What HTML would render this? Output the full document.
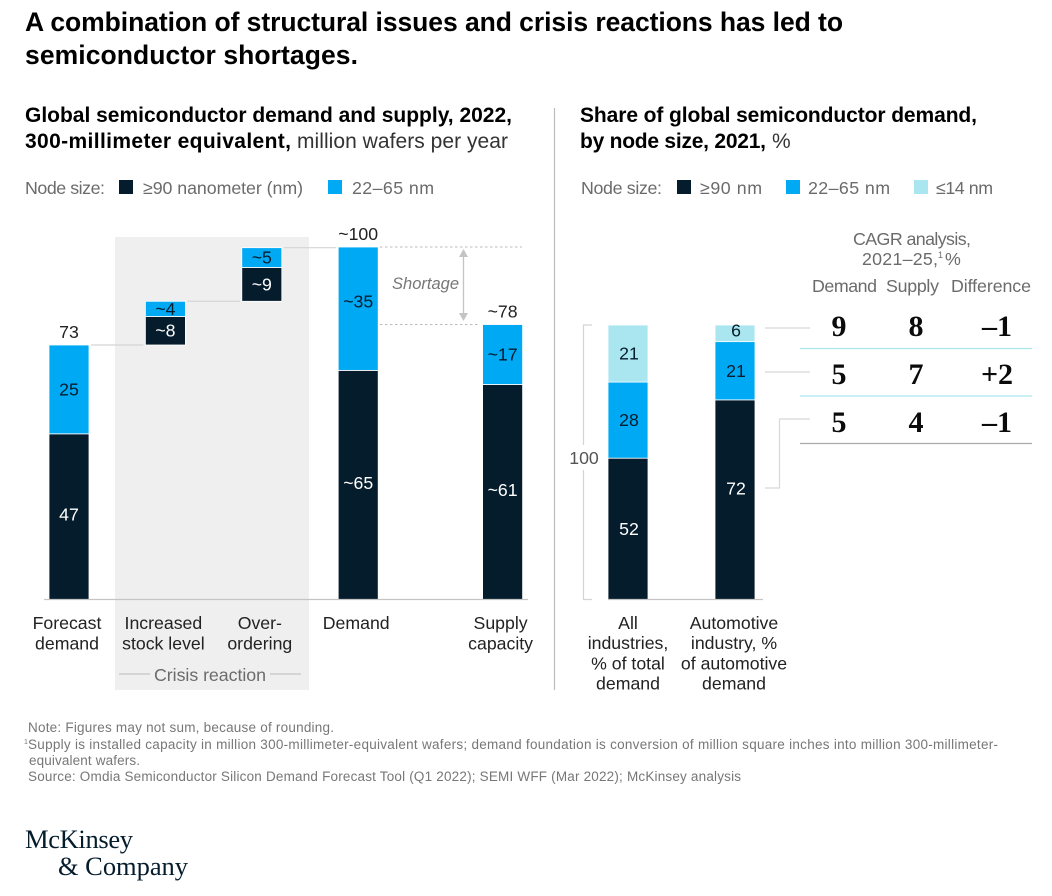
<!DOCTYPE html>
<html lang="en">
<head>
<meta charset="utf-8">
<title>Semiconductor shortages</title>
<style>
html,body{margin:0;padding:0;background:#fff;width:1052px;height:896px;overflow:hidden}
svg{display:block;font-family:"Liberation Sans",sans-serif}
.h{font-weight:700;fill:#000}
.s{font-size:21px}
.g{fill:#6b6b6b;font-size:17.8px}
.f{fill:#777;font-size:13.5px}
.n{font-family:"Liberation Serif",serif;font-weight:700;font-size:30px;fill:#0b0b0b;text-anchor:middle}
.l{font-family:"Liberation Serif",serif;font-size:26.5px;fill:#051c2c}
</style>
</head>
<body>
<svg xmlns="http://www.w3.org/2000/svg" width="1052" height="896" viewBox="0 0 1052 896">
  <text class="h" font-size="26.5" x="25" y="31" textLength="818" lengthAdjust="spacing">A combination of structural issues and crisis reactions has led to</text>
  <text class="h" font-size="26.5" x="25" y="64" textLength="333" lengthAdjust="spacing">semiconductor shortages.</text>

  <text class="h s" x="25" y="122" textLength="487" lengthAdjust="spacing">Global semiconductor demand and supply, 2022,</text>
  <text class="h s" x="25" y="148" textLength="266" lengthAdjust="spacing">300-millimeter equivalent,</text>
  <text class="s" x="297" y="148" fill="#333" textLength="211" lengthAdjust="spacing">million wafers per year</text>

  <g>
    <text class="g" x="25" y="194" textLength="80" lengthAdjust="spacing">Node size:</text>
    <rect x="119" y="180" width="14" height="14" fill="#051c2c"/>
    <text class="g" x="143" y="194" textLength="160" lengthAdjust="spacing">≥90 nanometer (nm)</text>
    <rect x="328" y="180" width="14" height="14" fill="#00a9f4"/>
    <text class="g" x="352" y="194" textLength="82" lengthAdjust="spacing">22–65 nm</text>
  </g>

  <rect x="115" y="237" width="194" height="453" fill="#efefef"/>
  <line x1="119" y1="674" x2="150" y2="674" stroke="#bbb"/>
  <line x1="270" y1="674" x2="301" y2="674" stroke="#bbb"/>
  <text class="g" x="154" y="681" textLength="112" lengthAdjust="spacing">Crisis reaction</text>

  <line x1="554.5" y1="108" x2="554.5" y2="690" stroke="#bdbdbd" stroke-width="1.2"/>

  <g id="left-chart"></g>

  <line x1="380" y1="247" x2="522" y2="247" stroke="#bbb" stroke-dasharray="2.5 2.5"/>
  <line x1="380" y1="324.5" x2="479" y2="324.5" stroke="#bbb" stroke-dasharray="2.5 2.5"/>
  <g>
    <line x1="463.5" y1="255" x2="463.5" y2="315" stroke="#c4c4c4" stroke-width="1.3"/>
    <polygon points="463.5,249 459,257 468,257" fill="#c4c4c4"/>
    <polygon points="463.5,321 459,313 468,313" fill="#c4c4c4"/>
  </g>
  <text x="392" y="289" font-size="16.5" font-style="italic" fill="#777" textLength="67" lengthAdjust="spacing">Shortage</text>

  <text class="h s" x="580" y="122" textLength="397" lengthAdjust="spacing">Share of global semiconductor demand,</text>
  <text class="h s" x="580" y="148" textLength="186" lengthAdjust="spacing">by node size, 2021,</text>
  <text class="s" x="772" y="148" fill="#333">%</text>

  <g>
    <text class="g" x="581" y="194" textLength="81" lengthAdjust="spacing">Node size:</text>
    <rect x="677" y="180" width="14" height="14" fill="#051c2c"/>
    <text class="g" x="700" y="194" textLength="62" lengthAdjust="spacing">≥90 nm</text>
    <rect x="786" y="180" width="14" height="14" fill="#00a9f4"/>
    <text class="g" x="808" y="194" textLength="82" lengthAdjust="spacing">22–65 nm</text>
    <rect x="914" y="180" width="14" height="14" fill="#aae6f0"/>
    <text class="g" x="936" y="194" textLength="57" lengthAdjust="spacing">≤14 nm</text>
  </g>

  <g id="right-chart"></g>

  <g fill="none" stroke="#d4d4d4" stroke-width="1.2">
    <path d="M592 325H583.5V445"/>
    <path d="M592 599.5H583.5V470"/>
  </g>
  <text x="584" y="464" text-anchor="middle" font-size="17.7" fill="#555">100</text>

  <g fill="none" stroke="#d8d8d8" stroke-width="1.2">
    <path d="M765 328H810"/>
    <path d="M765 372H810"/>
    <path d="M765 488H779.5V419H810"/>
  </g>

  <g>
    <text class="g" x="853" y="245" textLength="118" lengthAdjust="spacing">CAGR analysis,</text>
    <text class="g" x="862" y="265" textLength="76" lengthAdjust="spacing">2021–25,</text>
    <text class="g" x="938" y="258" style="font-size:9px">1</text>
    <text class="g" x="945" y="265">%</text>
    <text class="g" x="812" y="292" textLength="65" lengthAdjust="spacing">Demand</text>
    <text class="g" x="886" y="292" textLength="53" lengthAdjust="spacing">Supply</text>
    <text class="g" x="951" y="292" textLength="80" lengthAdjust="spacing">Difference</text>

    <text class="n" x="839" y="336">9</text>
    <text class="n" x="916" y="336">8</text>
    <text class="n" x="997" y="336">–1</text>
    <line x1="800" y1="348.5" x2="1032" y2="348.5" stroke="#aae6f0" stroke-width="1.2"/>
    <text class="n" x="839" y="384">5</text>
    <text class="n" x="916" y="384">7</text>
    <text class="n" x="997" y="384">+2</text>
    <line x1="800" y1="396" x2="1032" y2="396" stroke="#aae6f0" stroke-width="1.2"/>
    <text class="n" x="839" y="432">5</text>
    <text class="n" x="916" y="432">4</text>
    <text class="n" x="997" y="432">–1</text>
    <line x1="800" y1="443.5" x2="1032" y2="443.5" stroke="#a9a9a9" stroke-width="1.2"/>
  </g>

  <g>
    <text class="f" x="28" y="732" textLength="306" lengthAdjust="spacing">Note: Figures may not sum, because of rounding.</text>
    <text class="f" x="24" y="744" style="font-size:7px">1</text>
    <text class="f" x="28" y="749" textLength="970" lengthAdjust="spacing">Supply is installed capacity in million 300-millimeter-equivalent wafers; demand foundation is conversion of million square inches into million 300-millimeter-</text>
    <text class="f" x="29" y="765" textLength="111" lengthAdjust="spacing">equivalent wafers.</text>
    <text class="f" x="28" y="781" textLength="713" lengthAdjust="spacing">Source: Omdia Semiconductor Silicon Demand Forecast Tool (Q1 2022); SEMI WFF (Mar 2022); McKinsey analysis</text>
  </g>

  <g>
    <text class="l" x="25" y="848" textLength="108" lengthAdjust="spacing">McKinsey</text>
    <text class="l" x="58" y="875" textLength="130" lengthAdjust="spacing">&amp; Company</text>
  </g>
</svg>
<script>
var leftCategories = [['Forecast','demand'],['Increased','stock level'],['Over-','ordering'],['Demand'],['Supply','capacity']];
var leftDark = [47, 8.1, 9.6, 65, 61];
var leftBlue = [25.2, 4.3, 5.6, 35, 17];
var leftFloats = [false, true, true, false, false];
var leftDarkLabels = ['47','~8','~9','~65','~61'];
var leftBlueLabels = ['25','~4','~5','~35','~17'];
var leftTotalLabels = ['73','','','~100','~78'];

var rightCategories = [['All','industries,','% of total','demand'],['Automotive','industry, %','of automotive','demand']];
var rightDark = [52, 72];
var rightBlue = [28, 21];
var rightLight = [21, 6];

var NS = 'http://www.w3.org/2000/svg';
var DARK = '#051c2c', BLUE = '#00a9f4', LIGHT = '#aae6f0';

function leftY(v) { return 599.5 - v * 3.525; }
function leftCenter(i) { return 69 + 96.4 * i + (i === 4 ? 48 : 0); }
function rightCenter(i) { return 628 + 107 * i; }
function rightY(share) { return 599.5 - share * 2.745; }

function mk(tag, parent, attrs) {
  var el = document.createElementNS(NS, tag);
  for (var k in attrs) el.setAttribute(k, attrs[k]);
  parent.appendChild(el);
  return el;
}
function label(parent, x, y, str, fill) {
  var el = mk('text', parent, {x: x, y: y, 'text-anchor': 'middle', 'font-size': 17.7, fill: fill});
  el.textContent = str;
  return el;
}
function segment(parent, cx, yTop, yBottom, fill) {
  return mk('rect', parent, {x: cx - 20, y: yTop, width: 40, height: yBottom - yTop, fill: fill, stroke: '#fff', 'stroke-width': 0.8});
}

var leftG = document.getElementById('left-chart');
var cum = 0;
leftCategories.forEach(function (cat, i) {
  var base = leftFloats[i] ? cum : 0;
  var mid = base + leftDark[i];
  var top = mid + leftBlue[i];
  var cx = leftCenter(i);

  if (i > 0 && (leftFloats[i] || leftFloats[i - 1])) {
    var conn = mk('line', leftG, {x1: leftCenter(i - 1) + 22, x2: cx - 22, y1: leftY(cum), y2: leftY(cum), stroke: '#d4d4d4', 'stroke-width': 1.2});
    
    
  }

  var d = segment(leftG, cx, leftY(mid), leftY(base), DARK);
  
  
  var b = segment(leftG, cx, leftY(top), leftY(mid), BLUE);
  
  

  var dl = label(leftG, cx, (leftY(mid) + leftY(base)) / 2 + (leftDark[i] > 20 ? 4 : 6), leftDarkLabels[i], '#fff');
  
  
  var bl = label(leftG, cx, (leftY(top) + leftY(mid)) / 2 + (leftBlue[i] > 30 ? -1 : 6), leftBlueLabels[i], DARK);
  
  

  if (leftTotalLabels[i]) {
    var tl = label(leftG, cx, leftY(top) - 7, leftTotalLabels[i], '#222');
    
    
  }

  cat.forEach(function (line, j) {
    var t = label(leftG, cx - 2, 629 + j * 20.3, line, '#222');
    
    
  });
  cum = top;
});
var leftAxis = mk('line', leftG, {x1: 44, x2: 528, y1: 599.5, y2: 599.5, stroke: '#c4c4c4', 'stroke-width': 1.2});



var rightG = document.getElementById('right-chart');
rightCategories.forEach(function (cat, i) {
  var total = rightDark[i] + rightBlue[i] + rightLight[i];
  var a = rightDark[i] / total * 100;
  var c = (rightDark[i] + rightBlue[i]) / total * 100;
  var cx = rightCenter(i);

  var d = segment(rightG, cx, rightY(a), rightY(0), DARK);
  
  
  var b = segment(rightG, cx, rightY(c), rightY(a), BLUE);
  
  
  var l = segment(rightG, cx, rightY(100), rightY(c), LIGHT);
  
  

  var dl = label(rightG, cx + 1, (rightY(a) + rightY(0)) / 2 + (i ? -5 : 6), String(rightDark[i]), '#fff');
  
  
  var bl = label(rightG, cx + 1, (rightY(c) + rightY(a)) / 2 + 6, String(rightBlue[i]), DARK);
  
  
  var ll = label(rightG, cx + 1, (rightY(100) + rightY(c)) / 2 + (i ? 3 : 6), String(rightLight[i]), DARK);
  
  

  cat.forEach(function (line, j) {
    var t = label(rightG, cx - (i ? 1 : 0), 629 + j * 20.2, line, '#222');
    
    
  });
});
var rightAxis = mk('line', rightG, {x1: 608, x2: 763, y1: 599.5, y2: 599.5, stroke: '#c4c4c4', 'stroke-width': 1.2});


</script>
</body>
</html>
